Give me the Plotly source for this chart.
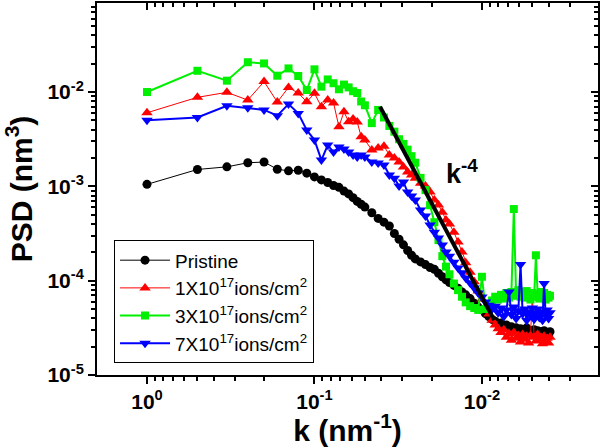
import plotly.graph_objects as go

# spatial-frequency index (k = 1/n, nm^-1)
n_index = list(range(1, 21)) + [22, 24, 26, 28, 30, 32, 34, 36, 38, 40,
                                43, 46, 49, 52, 55, 58, 61, 64,
                                68, 72, 76, 80, 85, 90, 95, 100] + list(range(105, 256, 5))
k_vals = [1.0 / n for n in n_index]

psd_pristine = [1.05e-3, 1.51e-3, 1.61e-3, 1.78e-3, 1.81e-3, 1.52e-3, 1.46e-3, 1.48e-3, 1.38e-3, 1.26e-3,
                1.17e-3, 1.10e-3, 1.02e-3, 9.77e-4, 8.91e-4, 8.32e-4, 7.59e-4, 6.92e-4, 6.46e-4, 6.03e-4,
                5.25e-4, 4.57e-4, 4.17e-4, 3.80e-4, 3.16e-4, 2.75e-4, 2.40e-4, 2.09e-4, 1.86e-4, 1.70e-4,
                1.58e-4, 1.48e-4, 1.38e-4, 1.32e-4, 1.20e-4, 1.10e-4, 1.02e-4, 9.55e-5,
                8.91e-5, 8.32e-5, 7.59e-5, 7.08e-5, 6.46e-5, 5.75e-5, 5.25e-5, 4.90e-5,
                4.47e-5, 4.17e-5, 3.89e-5, 3.72e-5, 3.47e-5, 3.55e-5, 3.24e-5, 3.39e-5, 3.09e-5, 3.24e-5,
                3.02e-5, 3.16e-5, 2.88e-5, 3.09e-5, 2.82e-5, 3.02e-5, 3.16e-5, 2.82e-5, 2.95e-5, 2.75e-5,
                3.02e-5, 2.82e-5, 2.95e-5, 2.69e-5, 2.88e-5, 2.75e-5, 2.95e-5, 2.69e-5, 2.82e-5, 2.63e-5, 2.88e-5]

psd_1e17 = [6.03e-3, 8.79e-3, 9.93e-3, 8.22e-3, 1.29e-2, 7.83e-3, 1.12e-2, 9.75e-3, 7.89e-3, 9.68e-3,
            6.98e-3, 8.22e-3, 7.64e-3, 4.29e-3, 6.18e-3, 4.84e-3, 5.18e-3, 4.81e-3, 3.36e-3, 3.10e-3,
            2.43e-3, 2.55e-3, 2.67e-3, 2.15e-3, 2.00e-3, 1.81e-3, 1.60e-3, 1.42e-3, 1.32e-3, 1.22e-3,
            1.08e-3, 1.01e-3, 8.71e-4, 7.16e-4, 6.34e-4, 5.33e-4, 4.40e-4, 3.98e-4,
            3.27e-4, 2.57e-4, 2.01e-4, 1.55e-4, 1.23e-4, 9.77e-5, 7.76e-5, 6.38e-5,
            5.25e-5, 4.43e-5, 3.80e-5, 3.39e-5, 3.09e-5, 2.82e-5, 3.02e-5, 2.51e-5, 2.75e-5, 2.34e-5,
            2.82e-5, 2.45e-5, 2.63e-5, 2.24e-5, 2.69e-5, 2.40e-5, 2.57e-5, 2.19e-5, 2.63e-5, 7.08e-5,
            2.51e-5, 2.29e-5, 2.69e-5, 2.34e-5, 2.51e-5, 2.14e-5, 2.57e-5, 2.29e-5, 2.45e-5, 2.19e-5, 2.51e-5]

psd_3e17 = [1.00e-2, 1.68e-2, 1.32e-2, 2.07e-2, 2.01e-2, 1.49e-2, 1.78e-2, 1.48e-2, 1.05e-2, 1.74e-2,
            1.14e-2, 1.36e-2, 1.24e-2, 1.07e-2, 1.20e-2, 1.12e-2, 1.02e-2, 9.77e-3, 7.94e-3, 7.24e-3,
            4.68e-3, 6.46e-3, 5.37e-3, 4.37e-3, 3.80e-3, 3.16e-3, 2.82e-3, 2.45e-3, 2.09e-3, 1.78e-3,
            1.23e-3, 9.12e-4, 6.31e-4, 4.17e-4, 2.69e-4, 1.82e-4, 1.41e-4, 1.17e-4,
            9.33e-5, 7.94e-5, 6.76e-5, 5.89e-5, 5.37e-5, 5.13e-5, 4.90e-5, 1.10e-4,
            5.01e-5, 5.62e-5, 6.17e-5, 6.76e-5, 6.31e-5, 7.08e-5, 6.46e-5, 7.41e-5, 6.61e-5, 7.59e-5,
            5.75e-4, 6.92e-5, 7.94e-5, 6.76e-5, 7.59e-5, 6.61e-5, 7.76e-5, 7.08e-5, 6.31e-5, 7.41e-5,
            6.76e-5, 1.86e-4, 7.24e-5, 6.46e-5, 7.59e-5, 6.76e-5, 7.41e-5, 6.31e-5, 7.08e-5, 6.61e-5, 6.92e-5]

psd_7e17 = [5.01e-3, 5.37e-3, 7.16e-3, 6.82e-3, 6.46e-3, 5.62e-3, 7.46e-3, 5.94e-3, 3.95e-3, 3.10e-3,
            1.90e-3, 2.74e-3, 2.31e-3, 2.61e-3, 2.49e-3, 2.31e-3, 2.15e-3, 2.05e-3, 2.15e-3, 2.05e-3,
            1.81e-3, 1.77e-3, 1.68e-3, 1.32e-3, 1.22e-3, 1.01e-3, 1.11e-3, 8.71e-4, 7.89e-4, 7.16e-4,
            5.61e-4, 4.84e-4, 3.89e-4, 3.27e-4, 2.83e-4, 2.39e-4, 2.01e-4, 1.82e-4,
            1.57e-4, 1.36e-4, 1.21e-4, 1.07e-4, 9.44e-5, 8.36e-5, 7.40e-5, 6.70e-5,
            5.93e-5, 5.50e-5, 5.01e-5, 5.37e-5, 4.57e-5, 5.13e-5, 4.17e-5, 4.90e-5, 7.59e-5, 4.37e-5,
            5.25e-5, 3.98e-5, 4.79e-5, 1.48e-4, 4.47e-5, 5.01e-5, 3.80e-5, 4.68e-5, 4.27e-5, 5.13e-5,
            3.89e-5, 4.57e-5, 5.01e-5, 4.07e-5, 4.68e-5, 3.80e-5, 9.33e-5, 4.37e-5, 4.90e-5, 3.98e-5, 4.57e-5]

series_names = ["Pristine",
                "1X10<sup>17</sup>ions/cm<sup>2</sup>",
                "3X10<sup>17</sup>ions/cm<sup>2</sup>",
                "7X10<sup>17</sup>ions/cm<sup>2</sup>"]

fit_k = [0.0406, 0.00845]
fit_psd = [6.98e-3, 3.82e-5]

x_tick_vals = [1, 0.1, 0.01]
x_tick_text = ["10<sup>0</sup>", "10<sup>-1</sup>", "10<sup>-2</sup>"]
y_tick_vals = [1e-5, 1e-4, 1e-3, 1e-2]
y_tick_text = ["10<sup>-5</sup>", "10<sup>-4</sup>", "10<sup>-3</sup>", "10<sup>-2</sup>"]

x_minor = [m * d for d in [1, 0.1, 0.01, 0.001] for m in range(2, 10)]
y_minor = [m * d for d in [1e-5, 1e-4, 1e-3, 1e-2] for m in range(2, 10)]

styles = [
    dict(color="#000000", symbol="circle", size=9, width=1),
    dict(color="#FF0000", symbol="triangle-up", size=10, width=1),
    dict(color="#00F000", symbol="square", size=8, width=2),
    dict(color="#0000FF", symbol="triangle-down", size=10, width=2),
]
series = [psd_pristine, psd_1e17, psd_3e17, psd_7e17]

fig = go.Figure()
for name, vals, st in zip(series_names, series, styles):
    fig.add_trace(go.Scatter(
        x=k_vals, y=vals, name=name, mode="lines+markers",
        line=dict(color=st["color"], width=st["width"]),
        marker=dict(color=st["color"], symbol=st["symbol"], size=st["size"], line=dict(width=0)),
    ))

fig.add_trace(go.Scatter(x=fit_k, y=fit_psd, mode="lines", xaxis="x2", yaxis="y2",
                         line=dict(color="black", width=4), showlegend=False, hoverinfo="skip"))

x_range = [0.2985, -2.693]
y_range = [-5.0, -1.056]

common = dict(type="log", showgrid=False, zeroline=False, showline=True,
              linecolor="black", linewidth=2, automargin=False)

fig.update_layout(
    width=600, height=447,
    margin=dict(l=97, r=2, t=3, b=72),
    plot_bgcolor="white", paper_bgcolor="white",
    font=dict(family="Liberation Sans, Arial, sans-serif", color="black"),
    xaxis=dict(**common, range=x_range, tickvals=x_tick_vals, ticktext=x_tick_text,
               ticks="outside", ticklen=7, tickwidth=1.5, tickcolor="black",
               tickfont=dict(size=21, weight="bold"),
               minor=dict(tickvals=x_minor, ticks="outside", ticklen=4, tickwidth=1.5,
                          tickcolor="black", showgrid=False),
               title=dict(text="<b>k (nm<sup>-1</sup>)</b>", font=dict(size=30), standoff=2)),
    yaxis=dict(**common, range=y_range, tickvals=y_tick_vals, ticktext=y_tick_text,
               ticks="outside", ticklen=7, tickwidth=1.5, tickcolor="black",
               tickfont=dict(size=21, weight="bold"),
               minor=dict(tickvals=y_minor, ticks="outside", ticklen=4, tickwidth=1.5,
                          tickcolor="black", showgrid=False),
               title=dict(text="<b>PSD (nm<sup>3</sup>)</b>", font=dict(size=30), standoff=6)),
    xaxis2=dict(**common, range=x_range, overlaying="x", side="top", anchor="y",
                tickvals=x_tick_vals, showticklabels=False,
                ticks="inside", ticklen=7, tickwidth=1.5, tickcolor="black",
                minor=dict(tickvals=x_minor, ticks="inside", ticklen=4, tickwidth=1.5,
                           tickcolor="black", showgrid=False)),
    yaxis2=dict(**common, range=y_range, overlaying="y", side="right", anchor="x",
                tickvals=y_tick_vals, showticklabels=False,
                ticks="inside", ticklen=7, tickwidth=1.5, tickcolor="black",
                minor=dict(tickvals=y_minor, ticks="inside", ticklen=4, tickwidth=1.5,
                           tickcolor="black", showgrid=False)),
    legend=dict(x=0.034, y=0.362, xanchor="left", yanchor="top",
                bgcolor="white", bordercolor="black", borderwidth=1,
                font=dict(size=19), itemwidth=50, tracegroupgap=0),
    annotations=[dict(text="<b>k<sup>-4</sup></b>", x=0.764, y=0.545, xref="paper", yref="paper",
                      showarrow=False, font=dict(size=27))],
)

fig.write_html("out.html", config={"displayModeBar": False},
               post_script="document.body.style.margin='0';")
